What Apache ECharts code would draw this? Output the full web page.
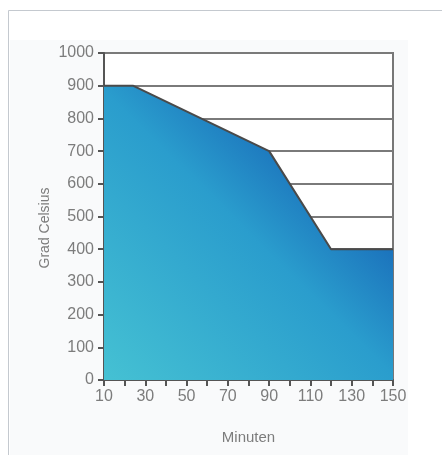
<!DOCTYPE html>
<html>
<head>
<meta charset="utf-8">
<script src="https://cdn.jsdelivr.net/npm/echarts@6/dist/echarts.min.js"></script>
<style>
html,body{margin:0;padding:0;background:#fff;}
#c{width:442px;height:455px;}
</style>
</head>
<body>
<div id="c"></div>
<script>
var minutes = [10, 24, 90, 120, 150];
var temperature = [900, 900, 700, 400, 400];
var xTickLabels = [10, 30, 50, 70, 90, 110, 130, 150];
var yTickLabels = [0, 100, 200, 300, 400, 500, 600, 700, 800, 900, 1000];
var xTitle = 'Minuten';
var yTitle = 'Grad Celsius';

var chart = echarts.init(document.getElementById('c'), null, {renderer: 'canvas'});
var txt = '#7c7c7c';
var fontFam = '"Liberation Sans Narrow", "Liberation Sans", Arial, sans-serif';
chart.setOption({
  animation: false,
  backgroundColor: '#fff',
  graphic: [
    {type: 'rect', z: -10, shape: {x: 10, y: 40, width: 398, height: 415}, style: {fill: '#f9fafb'}},
    {type: 'line', z: -5, shape: {x1: 8.5, y1: 10.5, x2: 442, y2: 10.5}, style: {stroke: '#c4c9cf', lineWidth: 1}},
    {type: 'line', z: -5, shape: {x1: 8.5, y1: 10.5, x2: 8.5, y2: 455}, style: {stroke: '#c4c9cf', lineWidth: 1}},
    {type: 'text', x: 45, y: 228, rotation: Math.PI / 2, style: {text: yTitle, fill: txt, font: '14px ' + fontFam, align: 'center', verticalAlign: 'middle'}}
  ],
  grid: {left: 104, right: 49, top: 53, bottom: 75, show: true, borderColor: '#777', borderWidth: 2, backgroundColor: '#fff'},
  xAxis: {
    type: 'value', min: 10, max: 150, interval: 10,
    name: xTitle, nameLocation: 'middle', nameGap: 50,
    nameTextStyle: {color: txt, fontSize: 15, fontFamily: fontFam},
    axisLine: {show: true, lineStyle: {color: '#555', width: 2}},
    axisTick: {show: true, length: 6, lineStyle: {color: '#555', width: 2}},
    splitLine: {show: false},
    axisLabel: {
      color: txt, fontSize: 16, fontFamily: fontFam, margin: 9,
      formatter: function (v) { return xTickLabels.indexOf(v) >= 0 ? String(v) : ''; }
    }
  },
  yAxis: {
    type: 'value', min: 0, max: 1000, interval: 100,
    axisLine: {show: true, lineStyle: {color: '#555', width: 2}},
    axisTick: {show: true, length: 6, lineStyle: {color: '#555', width: 2}},
    splitLine: {show: true, lineStyle: {color: '#7a7a7a', width: 2}},
    axisLabel: {
      color: txt, fontSize: 16, fontFamily: fontFam, margin: 10,
      formatter: function (v) { return yTickLabels.indexOf(v) >= 0 ? String(v) : ''; }
    }
  },
  series: [{
    type: 'line',
    data: minutes.map(function (m, i) { return [m, temperature[i]]; }),
    symbol: 'none',
    lineStyle: {color: '#4a4a4a', width: 2},
    areaStyle: {
      opacity: 1,
      color: new echarts.graphic.LinearGradient(0, 1, 1, 0, [
        {offset: 0, color: '#45c1d3'},
        {offset: 0.5, color: '#2a9dcd'},
        {offset: 0.72, color: '#1b72bc'},
        {offset: 1, color: '#1560b4'}
      ])
    },
    z: 3
  }]
});
</script>
</body>
</html>
